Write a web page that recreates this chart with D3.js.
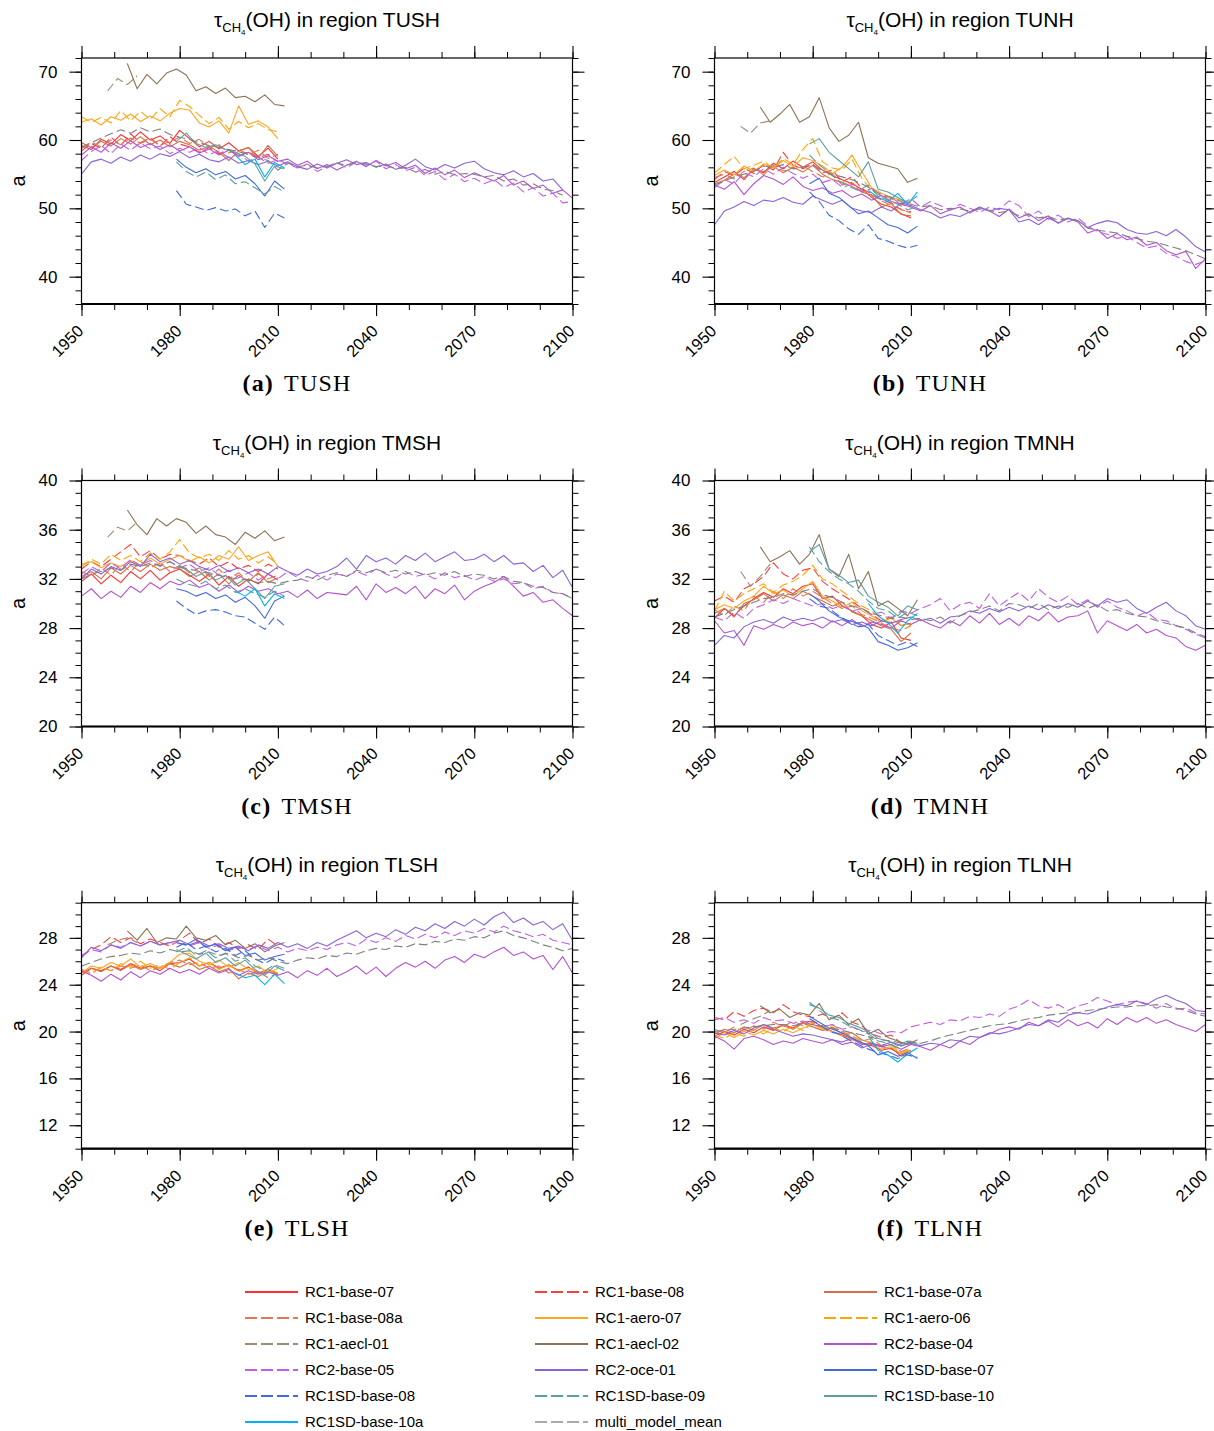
<!DOCTYPE html>
<html>
<head>
<meta charset="utf-8">
<script src="https://cdn.jsdelivr.net/npm/d3@7"></script>
<style>
  body { margin: 0; background: #fff; }
</style>
</head>
<body>
<svg id="chart" width="1214" height="1431"></svg>
<script>
// ---- Series definitions (legend order) ----
const seriesNames = [
    "RC1-base-07", "RC1-base-08", "RC1-base-07a", "RC1-base-08a", "RC1-aero-07", "RC1-aero-06",
    "RC1-aecl-01", "RC1-aecl-02", "RC2-base-04", "RC2-base-05", "RC2-oce-01", "RC1SD-base-07",
    "RC1SD-base-08", "RC1SD-base-09", "RC1SD-base-10", "RC1SD-base-10a", "multi_model_mean"
];
// first year of each series; values are every 3rd year from there
const seriesStart = [1950, 1950, 1950, 1950, 1950, 1950, 1958, 1964, 1950, 1950, 1950, 1979, 1979, 1979, 1979, 1997, 1950];
const yearStep = 3;

const regions = ["TUSH", "TUNH", "TMSH", "TMNH", "TLSH", "TLNH"];
const captionLetters = ["a", "b", "c", "d", "e", "f"];
const yDomains = [[36, 72], [36, 72], [20, 40], [20, 40], [10, 31], [10, 31]];
const yMajorTicks = [
    [40, 50, 60, 70], [40, 50, 60, 70],
    [20, 24, 28, 32, 36, 40], [20, 24, 28, 32, 36, 40],
    [12, 16, 20, 24, 28], [12, 16, 20, 24, 28]
];
const yMinorStep = [2, 2, 1, 1, 1, 1];
const xMajorTicks = [1950, 1980, 2010, 2040, 2070, 2100];

// ---- Values per region, one array per series (same order as seriesNames) ----
const TUSH = [
    [59.2,58.6,60.1,59.4,60.8,59.9,61.2,60.0,60.6,59.5,61.4,60.2,59.0,59.8,58.7,59.6,58.4,58.9,57.6,58.8,57.2],
    [58.4,59.5,58.8,60.4,59.2,60.9,59.6,60.3,59.1,60.5,59.4,59.0,58.2,58.9,58.0,58.6,57.7,58.3,57.4,57.9,56.8],
    [59.6,58.9,59.8,59.1,60.2,59.4,60.5,59.3,60.0,59.0,59.8,59.3,58.5,59.1,58.2,57.0,58.4,58.9,57.4,59.2,57.6],
    [58.9,59.7,59.0,60.0,59.3,60.3,59.5,60.1,59.2,59.8,60.4,59.5,60.1,58.9,59.3,58.1,58.7,57.8,58.5,57.3,57.9],
    [62.6,63.1,62.2,63.4,62.9,63.8,62.7,63.5,62.8,63.9,64.6,64.4,62.5,61.9,62.8,61.0,65.0,62.3,62.8,61.9,60.2],
    [63.4,62.6,63.3,62.5,64.3,62.8,64.2,63.0,64.6,63.4,65.8,64.9,63.6,62.4,63.3,61.6,62.7,61.8,62.4,61.5,61.2],
    [67.2,69.0,68.1,69.4],
    [71.2,67.5,69.6,68.2,69.8,70.4,69.5,67.2,67.8,66.8,67.6,66.2,66.4,65.6,66.6,65.2,65.0],
    [57.8,59.0,58.2,59.6,58.8,59.9,58.9,59.5,58.6,59.3,58.4,
     59.0,58.1,58.7,57.8,58.5,57.6,58.2,57.1,57.7,56.9,
     57.2,56.3,56.9,55.8,56.4,55.6,56.3,56.9,56.1,57.0,
     56.2,56.7,55.8,56.3,55.1,55.9,54.9,55.6,54.5,55.2,
     54.6,54.0,54.8,53.4,54.0,52.9,53.4,52.2,52.7,51.5],
    [57.0,58.3,59.2,58.0,59.4,58.5,59.6,58.7,59.1,58.0,58.8,
     58.2,58.9,57.9,58.4,57.4,58.0,56.9,57.5,56.6,57.1,
     56.5,55.9,56.5,55.4,56.1,56.7,55.9,56.8,56.3,56.9,
     55.8,56.4,55.5,56.0,54.8,55.4,54.2,55.0,53.9,54.4,
     53.6,54.2,53.1,53.7,52.4,53.0,51.8,52.2,50.8,51.0],
    [55.0,56.8,57.2,56.6,57.5,56.9,57.8,57.2,58.0,57.6,58.3,
     57.4,57.9,57.1,56.8,57.5,56.6,57.0,56.4,56.9,56.2,
     56.8,56.1,55.7,56.5,55.9,56.6,57.1,56.4,56.7,56.0,
     56.5,55.7,56.3,57.2,56.1,55.6,56.4,55.9,56.6,56.9,
     55.8,55.2,54.9,55.5,54.6,55.1,54.0,54.3,52.7],
    [57.2,56.0,55.2,55.8,54.9,55.4,54.3,54.8,53.6,51.8,54.0,52.8],
    [52.6,50.6,50.2,49.7,50.1,49.6,49.9,48.9,49.6,47.2,49.3,48.6],
    [56.8,55.4,54.6,55.3,54.2,54.9,53.6,53.9,53.0,52.1,53.2,52.4],
    [59.8,61.0,59.5,58.9,59.3,58.6,58.2,57.6,56.5,54.0,56.2,55.8],
    [57.8,56.4,57.2,54.6,56.7,55.9],
    [58.8,59.6,60.3,60.9,61.5,61.0,61.8,61.2,61.6,60.8,60.4,
     60.1,59.6,59.2,58.9,58.6,58.3,57.9,57.4,57.0,
     55.6,56.6,56.1,56.3,55.9,56.2,56.6,56.3,56.7,56.5,
     56.1,56.3,55.8,56.0,55.3,55.7,55.0,55.4,54.9,55.1,
     55.0,54.6,54.8,54.0,54.3,53.4,53.6,52.8,52.6,51.9]
];

const TUNH = [
    [53.8,54.6,55.4,54.2,55.8,55.2,56.6,55.8,56.9,56.0,56.8,55.6,54.8,54.2,53.6,52.8,51.6,50.6,50.2,49.2,48.6],
    [54.2,55.4,54.8,55.9,55.1,56.4,55.6,58.2,56.3,55.8,56.5,55.2,55.6,53.9,54.6,52.9,52.1,51.2,50.8,49.8,49.5],
    [53.6,54.1,55.0,54.5,55.6,55.4,56.1,55.2,56.0,55.3,56.3,55.0,54.2,53.8,53.2,52.4,51.9,50.2,50.7,49.1,48.9],
    [54.5,55.0,54.3,55.4,55.9,54.9,56.3,55.5,55.7,56.2,55.4,54.6,55.1,53.4,53.8,52.6,52.0,51.1,50.4,49.9,49.3],
    [54.8,55.6,54.9,56.2,55.4,56.5,55.9,57.0,56.1,57.4,57.0,56.2,55.1,56.0,57.8,55.4,53.0,52.2,51.6,51.2,50.8],
    [55.2,56.4,57.6,55.8,56.3,56.9,55.8,57.3,56.4,58.6,60.2,56.8,55.9,55.6,57.2,54.4,52.6,51.8,51.4,50.6,50.2],
    [62.0,61.0,62.5,62.8],
    [64.8,62.6,63.8,65.2,62.6,63.4,66.2,61.8,59.8,60.7,62.6,57.4,56.6,56.2,55.8,53.8,54.4],
    [53.4,52.8,53.9,52.0,53.6,54.8,54.3,53.5,54.6,53.2,52.6,
     53.0,52.2,52.6,51.6,52.1,51.2,51.9,51.0,50.6,50.2,
     49.6,50.4,49.2,49.8,50.2,49.3,50.1,49.6,48.8,49.9,
     48.6,49.2,48.2,48.9,47.8,48.6,48.0,46.4,46.9,45.6,
     46.3,45.4,45.8,44.6,45.0,43.8,43.2,43.7,41.2,42.6],
    [53.0,54.2,53.6,55.2,54.6,55.8,55.0,56.0,55.1,54.4,55.0,
     53.8,54.2,53.1,53.5,52.4,52.9,51.8,51.6,50.6,51.4,
     50.2,51.0,50.4,49.7,50.6,50.0,49.4,50.2,49.8,51.1,
     50.4,48.8,49.6,48.4,49.0,48.0,48.6,47.4,46.6,46.2,
     45.6,45.9,45.0,44.2,44.5,43.4,43.0,42.2,41.8,42.3],
    [47.6,49.6,50.2,51.0,50.4,51.2,51.0,51.6,50.9,50.6,51.8,
     51.2,50.6,51.2,50.0,49.6,49.4,50.2,49.6,50.8,50.4,
     49.8,49.4,48.6,49.1,48.8,49.5,50.2,49.6,50.0,49.8,
     48.0,48.4,47.6,48.6,47.9,48.5,48.2,47.2,47.8,48.2,
     47.9,46.9,46.4,46.2,46.6,46.0,46.9,45.8,44.4,43.6],
    [53.6,54.4,52.2,51.6,50.4,49.2,49.6,48.6,47.6,47.2,46.4,47.4],
    [52.4,51.0,49.0,48.2,47.0,46.2,47.6,45.6,45.2,44.6,44.2,44.6],
    [57.8,56.4,55.2,54.0,53.2,52.6,53.4,51.8,51.2,50.6,49.8,50.2],
    [59.4,60.2,58.2,57.0,55.8,54.6,56.8,52.8,52.4,51.6,50.8,51.8],
    [52.6,51.6,51.0,52.2,50.6,52.4],
    [53.4,54.0,54.6,55.0,55.4,56.2,56.0,56.4,55.8,56.0,56.3,
     55.6,55.0,54.6,54.2,53.6,52.8,52.0,51.6,51.0,50.6,
     50.2,50.4,49.8,50.0,49.9,49.6,49.9,49.7,49.4,49.6,
     48.9,49.1,48.6,48.8,48.3,48.5,48.2,47.1,46.8,46.6,
     46.4,45.9,45.6,45.2,45.0,44.6,44.2,43.8,43.2,42.6]
];

const TMSH = [
    [31.8,32.4,31.6,32.3,31.7,32.6,32.0,32.7,31.9,32.5,32.8,32.3,31.8,32.4,31.5,32.2,31.4,32.0,31.6,32.4,31.9],
    [32.8,33.4,33.0,33.6,34.2,34.8,33.8,34.3,33.6,34.0,33.9,33.5,33.2,33.7,33.0,33.4,32.8,33.1,32.6,33.2,32.8],
    [32.2,32.6,32.0,32.9,32.4,33.1,32.6,33.2,32.7,33.0,32.8,32.2,32.6,31.9,32.4,31.6,32.3,31.8,32.5,31.7,32.1],
    [32.6,32.2,32.9,32.3,33.2,32.6,33.4,32.9,33.3,32.6,33.1,32.5,32.9,32.2,32.8,32.0,32.5,31.8,32.4,32.0,32.3],
    [33.2,33.4,32.9,33.3,33.0,33.5,33.1,33.7,33.2,33.6,33.9,33.4,33.8,33.3,33.9,33.6,34.6,33.5,33.9,34.2,33.0],
    [33.0,33.6,33.2,34.0,33.5,33.9,33.4,34.1,33.6,34.2,35.2,34.1,33.7,34.0,33.5,34.3,33.6,33.9,33.3,33.8,33.2],
    [35.4,36.2,35.9,36.6],
    [37.6,36.4,35.6,36.9,36.3,36.9,36.6,35.7,36.3,35.6,35.4,34.8,35.8,35.3,35.9,35.1,35.4],
    [30.6,31.2,30.4,31.0,30.5,31.4,30.9,31.7,31.2,31.8,31.5,
     31.9,31.3,31.6,31.0,31.5,30.9,31.4,31.0,31.2,30.8,
     31.0,30.5,31.1,30.4,30.9,30.8,30.7,31.4,30.3,31.6,
     30.9,31.3,30.8,31.4,30.4,31.2,30.8,31.5,30.3,31.0,
     31.4,31.7,32.2,31.4,30.6,30.9,30.1,30.3,29.6,29.0],
    [32.4,33.0,32.6,33.3,32.8,33.6,33.1,33.5,33.0,33.4,32.9,
     33.2,32.6,32.9,32.3,32.7,32.1,32.5,31.9,32.4,32.0,
     32.6,32.1,31.8,32.3,31.9,32.4,32.2,32.6,32.3,32.8,
     32.4,32.1,32.6,32.2,32.4,32.0,32.5,32.1,32.3,31.9,
     32.2,31.8,32.0,31.6,31.7,31.2,31.4,30.9,30.8,30.4],
    [32.0,32.8,32.4,33.0,32.7,33.4,33.0,34.0,33.4,33.7,33.2,
     33.5,33.0,32.7,33.1,32.6,32.9,32.5,32.8,32.4,33.0,
     32.6,32.3,32.8,32.4,32.6,33.0,33.7,32.8,33.9,33.4,
     33.7,33.2,33.9,33.5,34.1,33.4,33.8,34.2,33.5,33.6,
     34.0,33.4,33.9,33.2,33.3,32.6,33.1,32.1,32.7,31.3],
    [31.2,31.0,30.6,30.9,30.4,30.7,30.1,30.5,29.8,28.8,30.2,30.6],
    [30.2,29.6,29.1,29.4,29.5,29.3,29.0,28.9,28.4,27.9,28.9,28.2],
    [32.0,31.6,31.4,31.8,31.2,31.5,30.9,31.2,30.8,30.5,31.0,30.6],
    [33.0,32.8,32.2,32.6,31.9,32.3,31.5,32.0,31.2,30.4,31.4,31.6],
    [31.0,30.6,31.2,29.8,30.8,30.4],
    [32.0,32.4,32.6,32.9,32.7,33.2,33.0,33.3,33.1,33.4,33.0,
     32.8,32.6,32.5,32.3,32.1,32.0,31.9,31.7,31.8,31.6,
     31.8,31.9,32.2,31.9,32.3,32.5,32.2,32.7,32.5,32.8,
     32.5,32.7,32.4,32.6,32.3,32.5,32.3,32.6,32.2,32.4,
     32.3,32.0,32.2,31.8,31.7,31.4,31.3,30.9,30.8,30.4]
];

const TMNH = [
    [28.8,29.6,29.0,29.8,30.4,30.9,30.5,31.2,30.8,31.4,31.6,30.4,30.6,29.8,29.4,29.0,28.3,28.0,28.5,27.2,27.0],
    [30.2,30.6,30.1,31.2,31.6,32.2,33.3,32.4,32.0,32.7,32.9,31.8,31.2,30.7,30.2,29.6,29.1,28.6,28.9,28.2,28.4],
    [29.2,29.6,28.9,30.0,30.3,30.8,30.2,30.7,30.4,31.0,30.6,30.2,29.8,30.1,29.3,29.0,28.6,28.2,27.9,26.9,27.6],
    [29.5,29.0,29.8,29.4,30.6,30.1,31.0,30.4,31.2,30.6,31.0,30.5,30.0,29.6,29.8,29.1,28.8,28.4,28.0,27.8,28.2],
    [29.5,29.9,29.6,30.2,30.6,31.4,30.8,31.1,30.6,31.2,31.8,30.6,30.2,29.7,30.1,29.4,29.0,28.5,28.8,28.2,28.4],
    [29.4,31.0,30.2,30.8,31.2,31.6,30.9,31.5,31.8,32.3,33.1,32.0,31.6,31.0,30.4,29.8,29.4,28.8,28.4,28.6,28.2],
    [32.6,31.4,32.2,33.2],
    [34.6,33.4,33.8,34.3,33.2,34.0,35.6,32.8,32.2,34.0,31.2,32.6,29.8,30.2,29.6,29.0,30.3],
    [28.6,27.6,27.8,26.6,28.2,27.9,28.3,28.0,28.5,28.2,28.4,
     28.0,28.6,28.2,28.7,28.1,28.5,28.3,28.0,28.6,28.3,
     28.7,28.3,28.0,28.6,28.2,29.0,28.4,29.2,28.3,28.8,
     28.2,29.0,28.6,29.3,28.5,28.9,29.0,29.4,27.6,28.6,
     28.2,27.8,28.3,27.6,27.9,27.4,27.2,26.5,26.2,26.6],
    [28.9,28.6,29.3,28.8,29.6,29.9,30.3,30.0,30.4,30.1,29.8,
     30.0,29.6,29.8,29.4,29.6,29.1,29.3,28.8,29.4,29.2,
     29.6,29.9,30.4,29.4,29.9,30.1,29.6,30.8,29.8,30.4,
     30.9,30.2,31.2,30.5,30.1,30.6,29.9,30.3,29.7,30.2,
     29.7,29.4,29.0,29.3,28.7,28.6,28.2,27.9,27.5,27.2],
    [26.6,27.4,27.2,28.1,28.5,28.7,28.4,28.9,28.6,28.8,28.6,
     28.9,28.5,28.7,28.3,28.5,28.2,28.6,28.4,28.7,28.9,
     28.6,28.8,28.4,28.9,29.0,29.4,29.2,29.6,29.3,29.7,
     29.4,29.8,29.5,29.9,29.6,30.0,29.7,30.2,29.8,30.4,
     30.1,30.3,29.6,29.2,29.7,30.1,29.4,29.0,28.2,27.9],
    [30.8,30.2,29.4,28.9,28.6,28.4,28.0,26.9,26.6,26.2,26.4,26.8],
    [30.4,29.8,29.6,29.0,28.5,28.1,28.3,27.4,27.0,26.6,26.9,26.5],
    [34.6,33.4,32.6,32.0,31.6,31.0,30.2,29.6,29.4,28.8,29.3,29.0],
    [34.2,34.8,32.8,32.3,31.7,31.9,30.6,30.1,29.7,29.0,29.8,29.5],
    [30.0,29.0,28.4,27.6,28.6,29.2],
    [28.9,29.2,29.5,29.8,30.1,30.4,30.5,30.8,30.7,31.0,31.2,
     30.7,30.5,30.1,29.8,29.6,29.2,29.0,28.8,28.9,28.7,
     28.8,28.6,28.9,28.4,29.0,29.3,29.5,29.8,29.4,30.0,
     29.9,29.6,30.0,29.5,29.8,29.7,30.0,29.6,29.9,29.4,
     29.5,29.2,29.0,28.9,28.6,28.4,28.2,28.0,27.6,27.3]
];

const TLSH = [
    [24.8,25.4,25.2,25.6,25.3,25.8,25.4,25.6,25.2,25.8,25.9,26.2,25.6,25.9,25.4,25.7,25.2,25.5,25.0,25.3,24.9],
    [26.4,27.0,27.4,28.1,27.6,28.0,27.5,27.9,27.6,27.3,27.8,28.4,27.5,27.9,27.2,27.6,27.1,27.4,27.0,27.9,27.3],
    [25.0,25.4,25.1,25.6,25.2,25.7,25.3,25.6,25.4,25.8,25.5,25.9,25.3,25.6,25.1,25.4,24.5,25.0,24.7,25.1,24.8],
    [25.3,25.0,25.5,25.2,25.6,25.4,25.7,25.2,25.5,25.9,26.1,25.7,25.9,25.4,25.6,25.0,25.3,24.9,25.1,24.6,25.0],
    [25.0,25.6,25.4,25.9,25.6,26.2,25.5,25.8,25.4,25.9,26.6,26.7,26.0,25.7,26.1,25.5,25.9,25.3,25.6,25.0,25.4],
    [25.2,24.9,25.5,25.2,25.8,25.5,26.0,25.4,25.7,25.3,25.9,26.3,25.6,25.9,25.3,25.7,25.1,25.5,24.9,25.3,25.0],
    [27.4,27.8,28.0,27.6],
    [28.6,27.8,28.8,27.6,28.0,27.9,29.0,28.0,27.8,28.2,27.4,27.8,27.1,27.5,26.8,27.3,27.6],
    [25.2,24.8,24.3,24.9,24.4,25.1,24.6,25.2,24.9,25.4,25.0,
     25.3,24.9,25.4,25.0,25.3,24.8,25.2,24.9,25.1,24.8,
     25.1,24.6,25.2,24.8,25.4,24.7,25.1,25.6,24.9,25.5,
     24.7,25.4,25.9,25.5,26.0,25.4,26.1,26.4,25.9,26.6,
     26.3,26.8,27.2,26.5,26.8,26.2,26.5,25.3,26.4,25.0],
    [26.5,27.0,26.8,27.4,27.2,27.6,27.3,27.7,27.4,27.6,27.5,
     27.3,27.6,27.1,27.4,26.9,27.2,27.0,27.3,26.9,27.2,
     26.8,27.1,26.9,27.2,27.0,27.4,27.6,27.3,27.9,27.6,
     28.0,27.7,28.2,27.9,28.3,28.0,28.5,28.2,28.6,28.4,
     28.8,28.5,29.0,28.6,28.4,28.1,28.3,27.8,27.6,27.4],
    [26.3,27.2,26.9,27.4,27.1,27.6,27.3,27.7,27.4,27.6,27.8,
     27.4,27.7,27.3,27.5,27.1,27.3,26.9,27.4,27.1,27.6,
     27.2,27.5,27.1,27.6,27.3,27.8,28.2,28.6,28.0,28.4,
     28.1,28.7,28.3,28.9,28.6,29.2,28.8,29.4,29.0,29.6,
     29.1,29.8,30.2,29.3,29.7,29.1,29.4,28.7,29.2,27.8],
    [27.6,27.4,27.9,27.2,27.5,26.9,27.2,26.5,26.7,26.1,26.4,26.6],
    [27.2,27.6,27.0,27.3,26.8,27.1,26.5,26.9,26.2,25.8,26.3,26.0],
    [26.8,27.2,26.5,26.9,26.3,26.7,26.0,26.3,25.6,25.2,25.7,25.4],
    [27.0,26.6,26.2,26.7,25.9,26.3,25.6,26.1,25.3,24.8,25.6,25.2],
    [25.0,24.6,24.8,24.0,24.9,24.1],
    [25.6,25.9,26.2,26.4,26.5,26.7,26.6,26.9,26.7,27.0,26.8,
     26.9,26.6,26.8,26.5,26.7,26.3,26.5,26.1,26.3,26.0,
     25.8,26.1,26.3,26.2,26.5,26.4,26.7,26.6,26.9,27.1,
     27.0,27.3,27.2,27.5,27.4,27.7,27.6,27.9,27.8,28.1,
     28.0,28.4,28.6,28.2,28.0,27.7,27.4,27.2,26.9,27.1]
];

const TLNH = [
    [19.6,20.0,19.7,20.2,19.9,20.4,20.1,20.6,20.3,20.8,20.9,20.4,20.0,19.7,19.4,19.0,18.8,18.4,18.6,17.9,18.2],
    [21.2,21.0,21.7,21.3,21.8,22.0,21.6,22.3,21.7,21.4,21.2,21.5,21.1,21.6,20.8,20.5,19.8,19.5,19.7,19.0,19.2],
    [19.8,20.2,19.9,20.4,20.1,20.6,20.3,20.5,20.2,20.7,20.4,20.1,20.3,19.8,19.9,19.3,19.0,18.7,18.5,18.1,18.4],
    [20.2,19.9,20.4,20.0,20.5,20.2,20.8,20.4,20.9,20.5,20.8,20.3,20.6,20.0,19.6,19.2,19.4,18.8,18.9,18.3,18.6],
    [19.4,19.9,19.5,20.0,19.7,20.1,19.8,20.2,19.9,20.3,20.6,20.2,20.0,19.6,19.3,19.0,18.9,18.5,18.7,18.1,18.3],
    [19.7,19.4,19.9,19.6,20.2,19.8,20.3,20.0,20.5,20.1,20.7,20.3,20.4,19.9,19.6,19.2,19.1,18.7,18.9,18.2,18.5],
    [20.6,21.0,21.3,21.8],
    [22.2,21.6,21.9,21.2,21.6,21.4,22.4,21.0,21.4,20.6,21.1,19.8,20.2,19.5,19.2,18.9,19.3],
    [19.6,19.2,18.5,19.4,19.6,19.3,18.9,19.2,19.0,19.4,19.2,
     19.0,19.3,18.9,19.1,18.6,18.9,18.7,18.9,18.5,18.9,
     18.7,18.4,18.9,18.6,19.2,18.9,19.5,19.8,20.2,20.4,
     20.2,20.8,20.5,20.9,20.4,21.0,20.5,20.8,20.3,21.1,
     20.6,21.2,20.8,21.2,20.7,21.0,20.6,20.3,20.0,20.6],
    [21.0,21.2,20.8,21.0,20.7,21.2,20.9,21.0,20.7,20.9,20.6,
     20.4,20.6,20.2,20.4,20.0,20.1,19.8,20.0,19.9,20.4,
     20.6,20.8,20.6,21.0,20.9,21.3,21.2,21.5,21.3,21.9,
     22.2,22.7,22.2,22.0,22.3,21.8,22.2,22.4,22.9,22.6,
     22.3,22.5,22.6,22.4,22.0,22.4,21.9,22.0,21.6,21.5],
    [19.9,19.7,20.1,19.8,20.3,20.6,20.2,19.9,19.6,19.8,19.7,
     19.5,19.3,19.1,19.4,18.9,19.0,18.8,19.1,18.8,19.0,
     18.8,19.0,18.9,19.3,19.2,19.6,19.5,19.9,19.8,20.0,
     20.3,20.6,20.5,21.0,20.8,21.4,21.6,21.5,21.8,22.1,
     22.3,22.2,22.6,22.3,22.8,23.1,22.7,22.4,21.8,21.7],
    [21.3,20.8,20.3,20.0,19.6,19.2,18.8,18.0,18.3,17.9,18.2,17.7],
    [21.1,20.6,20.0,19.8,19.3,18.9,18.5,18.2,18.0,17.7,18.0,17.8],
    [22.5,21.8,21.2,21.0,20.5,20.2,19.8,19.2,19.0,18.6,19.0,18.9],
    [22.3,22.0,21.4,21.2,20.7,20.4,20.0,19.4,19.2,18.8,19.2,19.0],
    [19.6,18.4,18.0,17.4,18.1,18.6],
    [20.0,20.1,20.2,20.3,20.4,20.5,20.6,20.6,20.5,20.7,20.6,
     20.5,20.3,20.1,19.9,19.7,19.5,19.3,19.2,19.0,19.1,
     19.0,19.2,19.5,19.7,19.9,20.1,20.3,20.5,20.6,20.7,
     20.9,21.1,21.2,21.4,21.5,21.6,21.6,21.8,21.9,22.0,
     22.1,22.1,22.2,22.2,22.3,22.1,22.0,21.8,21.5,21.3]
];

const regionValues = [TUSH, TUNH, TMSH, TMNH, TLSH, TLNH];

// ---- Styles ----
const seriesColors = [
    "#ff3030", "#ff3a3a", "#d2704a", "#e07850", "#ffa520", "#ffa500",
    "#a08a70", "#8b7355", "#b452cd", "#c060e0", "#8b62d8", "#4169e1",
    "#4169e1", "#5f9ea0", "#5f9ea0", "#00b2ee", "#808080"
];
const seriesDashed = [false, true, false, true, false, true, true, false, false, true, false, false, true, true, false, false, true];

const sansFont = "'Liberation Sans', Arial, Helvetica, sans-serif";
const serifFont = "'Liberation Serif', 'Times New Roman', serif";

// Layout
const panelLeft = [81.5, 714.5];
const panelTop = [58, 480.5, 902.7];
const plotW = 491;
const plotH = 246;

const svg = d3.select("#chart");

function drawPanel(idx) {
    const col = idx % 2, row = Math.floor(idx / 2);
    const g = svg.append("g")
        .attr("transform", `translate(${panelLeft[col]},${panelTop[row]})`);

    const x = d3.scaleLinear().domain([1950, 2100]).range([0, plotW]);
    const y = d3.scaleLinear().domain(yDomains[idx]).range([plotH, 0]);

    // Clip area for the lines
    const clipId = `clip-${idx}`;
    g.append("clipPath").attr("id", clipId)
        .append("rect").attr("width", plotW).attr("height", plotH);

    const line = d3.line()
        .x(d => x(d[0]))
        .y(d => y(d[1]));

    const lines = g.append("g").attr("clip-path", `url(#${clipId})`);
    regionValues[idx].forEach((vals, i) => {
        const pts = vals.map((v, k) => [seriesStart[i] + k * yearStep, v]);
        lines.append("path")
            .attr("d", line(pts))
            .attr("fill", "none")
            .attr("stroke", seriesColors[i])
            .attr("stroke-width", 1.1)
            .attr("stroke-linejoin", "round")
            .attr("stroke-dasharray", seriesDashed[i] ? "9,4" : null);
    });

    // Ticks (all pointing outward)
    const yMinor = d3.range(yDomains[idx][0], yDomains[idx][1] + 0.001, yMinorStep[idx]);
    const xMinor = d3.range(1950, 2101, 10);

    const tickAxes = [
        [d3.axisLeft(y), yMinor, yMajorTicks[idx], "translate(0,0)"],
        [d3.axisRight(y), yMinor, yMajorTicks[idx], `translate(${plotW},0)`],
        [d3.axisTop(x), xMinor, xMajorTicks, "translate(0,0)"],
        [d3.axisBottom(x), xMinor, xMajorTicks, `translate(0,${plotH})`]
    ];
    tickAxes.forEach(([axis, minor, major, tr]) => {
        const gm = g.append("g").attr("transform", tr)
            .call(axis.tickValues(minor).tickSize(6).tickFormat(""));
        gm.select(".domain").remove();
        gm.selectAll("line").attr("stroke-width", 1);
        const gM = g.append("g").attr("transform", tr)
            .call(axis.tickValues(major).tickSize(12).tickFormat(""));
        gM.select(".domain").remove();
        gM.selectAll("line").attr("stroke-width", 1.1);
    });

    // Y tick labels
    const yLab = g.append("g")
        .call(d3.axisLeft(y).tickValues(yMajorTicks[idx]).tickSize(0).tickPadding(24));
    yLab.select(".domain").remove();
    yLab.selectAll("text")
        .attr("font-family", sansFont)
        .attr("font-size", 17)
        .attr("fill", "#000");

    // X tick labels, rotated
    g.selectAll(".xlab")
        .data(xMajorTicks)
        .join("text")
        .attr("class", "xlab")
        .attr("transform", d => `translate(${x(d) + 3},${plotH + 28}) rotate(-45)`)
        .attr("text-anchor", "end")
        .attr("font-family", sansFont)
        .attr("font-size", 16.5)
        .text(d => d);

    // Frame
    g.append("rect")
        .attr("width", plotW).attr("height", plotH)
        .attr("fill", "none").attr("stroke", "#000").attr("stroke-width", 1.2);
    g.append("line")
        .attr("x1", 0).attr("x2", plotW).attr("y1", plotH).attr("y2", plotH)
        .attr("stroke", "#000").attr("stroke-width", 2.2);

    // Y axis label
    g.append("text")
        .attr("transform", `translate(-64,${plotH / 2}) rotate(-90)`)
        .attr("text-anchor", "middle")
        .attr("dy", "0.35em")
        .attr("font-family", sansFont)
        .attr("font-size", 20)
        .text("a");

    // Title: tau_{CH4}(OH) in region XXX
    const title = g.append("text")
        .attr("x", plotW / 2)
        .attr("y", -31)
        .attr("text-anchor", "middle")
        .attr("font-family", sansFont)
        .attr("font-size", 21);
    title.append("tspan").text("τ");
    title.append("tspan").attr("font-size", 13).attr("dy", 5).text("CH");
    title.append("tspan").attr("font-size", 8).attr("dy", 3).text("4");
    title.append("tspan").attr("dy", -8).text(`(OH) in region ${regions[idx]}`);

    // Sub-figure caption
    const cap = g.append("text")
        .attr("x", plotW / 2 - 30)
        .attr("y", 333)
        .attr("text-anchor", "middle")
        .attr("font-family", serifFont)
        .attr("font-size", 24)
        .attr("letter-spacing", 1.2);
    cap.append("tspan").attr("font-weight", "bold").text(`(${captionLetters[idx]})`);
    cap.append("tspan").attr("dx", 10).text(regions[idx]);
}

regions.forEach((r, i) => drawPanel(i));

// ---- Legend ----
const legendX = [245, 535, 824];
const legendY0 = 1292, legendDY = 26;
const legend = svg.append("g");
seriesNames.forEach((name, i) => {
    const lx = legendX[i % 3];
    const ly = legendY0 + Math.floor(i / 3) * legendDY;
    legend.append("line")
        .attr("x1", lx).attr("x2", lx + 53)
        .attr("y1", ly).attr("y2", ly)
        .attr("stroke", i === 16 ? "#aaaaaa" : seriesColors[i])
        .attr("stroke-width", 2)
        .attr("stroke-dasharray", seriesDashed[i] ? "12,4" : null);
    legend.append("text")
        .attr("x", lx + 60)
        .attr("y", ly)
        .attr("dy", "0.35em")
        .attr("font-family", sansFont)
        .attr("font-size", 15)
        .text(name);
});
</script>
</body>
</html>
